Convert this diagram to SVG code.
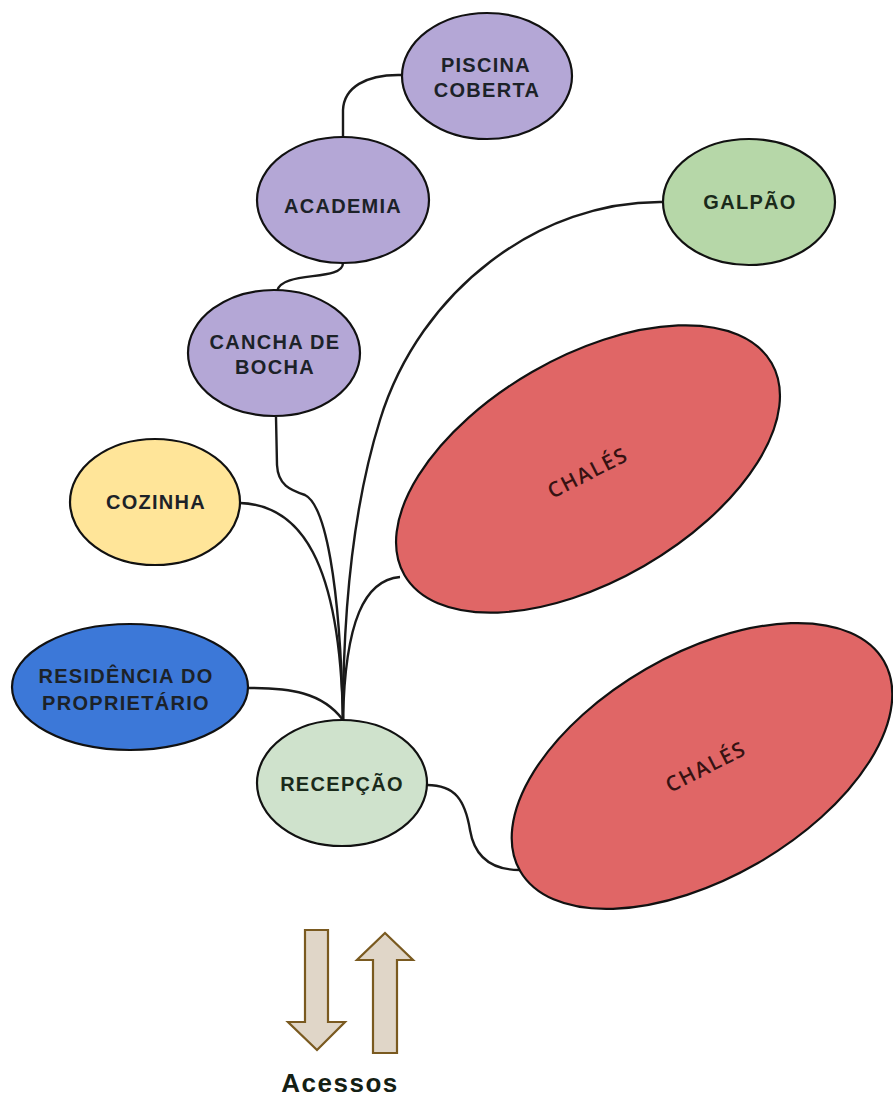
<svg xmlns="http://www.w3.org/2000/svg" width="893" height="1099" viewBox="0 0 893 1099">
<style>
.n{stroke:#111;stroke-width:2.2}
.t{font-family:"Liberation Sans",Arial,sans-serif;font-weight:bold;font-size:20px;letter-spacing:1.3px;fill:#1c2228;text-anchor:middle}
.c{fill:none;stroke:#1a1a1a;stroke-width:2.4}
.ch{font-family:"Open Sans","Noto Sans",sans-serif;font-size:21px;font-weight:600;letter-spacing:1.6px;fill:#361212;text-anchor:middle}
.ar{fill:#e0d6c8;stroke:#7a5a20;stroke-width:2.2}
</style>
<rect width="893" height="1099" fill="#fff"/>
<g id="connectors">
<path class="c" d="M402,75 C365,74 344,88 343,110 L343,137"/>
<path class="c" d="M343,263 C343,282 282,270 277,291"/>
<path class="c" d="M276,417 L277,465 C278,485 290,490 305,495 C325,505 340,580 343,720"/>
<path class="c" d="M240,503 C300,505 340,560 343,720"/>
<path class="c" d="M248,688 C290,688 322,692 343,720"/>
<path class="c" d="M664,202 C540,200 420,290 380,420 C355,500 343,600 343,720"/>
<path class="c" d="M400,577 C365,580 345,620 343,720"/>
<path class="c" d="M427,785 C455,785 465,800 470,830 C475,860 495,870 520,870"/>
</g>
<g id="piscina"><ellipse class="n" cx="487" cy="76" rx="85" ry="63" fill="#b4a7d6"/><text class="t" x="486" y="72">PISCINA</text><text class="t" x="487" y="97">COBERTA</text></g>
<g id="academia"><ellipse class="n" cx="343" cy="200" rx="86" ry="63" fill="#b4a7d6"/><text class="t" x="343" y="213">ACADEMIA</text></g>
<g id="cancha"><ellipse class="n" cx="274" cy="353" rx="86" ry="63" fill="#b4a7d6"/><text class="t" x="275" y="349">CANCHA DE</text><text class="t" x="275" y="374">BOCHA</text></g>
<g id="galpao"><ellipse class="n" cx="749" cy="202" rx="86" ry="63" fill="#b6d7a8"/><text class="t" x="750" y="209" style="fill:#1a2a1a">GALPÃO</text></g>
<g id="cozinha"><ellipse class="n" cx="155" cy="502" rx="85" ry="63" fill="#ffe599"/><text class="t" x="156" y="509">COZINHA</text></g>
<g id="residencia"><ellipse class="n" cx="130" cy="687" rx="118" ry="63" fill="#3c78d8"/><text class="t" x="126" y="683">RESIDÊNCIA DO</text><text class="t" x="126" y="710">PROPRIETÁRIO</text></g>
<g id="recepcao"><ellipse class="n" cx="342" cy="783" rx="85" ry="63" fill="#cfe2cc"/><text class="t" x="342" y="791" style="fill:#1a2a1a">RECEPÇÃO</text></g>
<g id="chales1"><ellipse class="n" cx="588" cy="469" rx="212" ry="112" transform="rotate(-30 588 469)" fill="#e06666"/><text class="ch" x="588" y="480" transform="rotate(-27 588 473)">CHALÉS</text></g>
<g id="chales2"><ellipse class="n" cx="702" cy="766" rx="210" ry="112" transform="rotate(-30 702 766)" fill="#e06666"/><text class="ch" x="706" y="774" transform="rotate(-27 706 767)">CHALÉS</text></g>
<g id="acessos">
<polygon class="ar" points="305,930 328,930 328,1022 345,1022 317,1050 288,1022 305,1022"/>
<polygon class="ar" points="385,933 413,960 397,960 397,1053 373,1053 373,960 357,960"/>
<text x="340" y="1092" font-family="Liberation Sans,Arial,sans-serif" font-weight="bold" font-size="26" letter-spacing="1.5" fill="#142014" text-anchor="middle">Acessos</text>
</g>
</svg>
